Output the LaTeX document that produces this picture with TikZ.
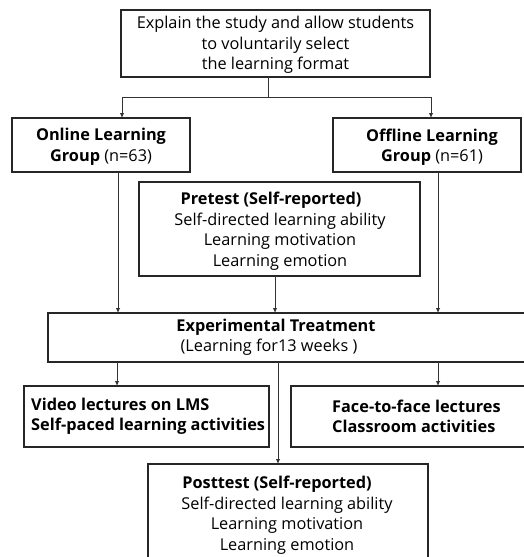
\documentclass[tikz,border=0pt]{standalone}
\usepackage{fontspec}
\setmainfont{Open Sans}
\usetikzlibrary{arrows.meta}
\begin{document}
\begin{tikzpicture}[x=1pt,y=-1pt,
  box/.style={draw=black!85,line width=1.3pt},
  txt/.style={inner sep=0pt,align=center,font=\fontsize{16.3}{20.5}\selectfont},
  conn/.style={draw=black!80,line width=0.9pt},
  arr/.style={conn,-{Latex[length=5pt,width=4.5pt]}}]
\useasboundingbox (0,0) rectangle (524,557);
\clip (0,0) rectangle (524,557);
% boxes
\draw[box] (121,10) rectangle (430,77);
\node[txt] (toptext) at (275.5,45) {Explain the study and allow students\\to voluntarily select\\the learning format};
\coordinate (topb) at (268,77);
\coordinate (split) at (268,97);
\coordinate (splitL) at (122,97);
\coordinate (splitR) at (431,97);

\draw[box] (12,118) rectangle (190,172);
\node[txt] (online) at (101,147) {\textbf{Online Learning}\\\textbf{Group} (n=63)};
\draw[box] (333,118) rectangle (521,172);
\node[txt] (offline) at (432,147) {\textbf{Offline Learning}\\\textbf{Group} (n=61)};

\draw[box] (139,182) rectangle (420,276);
\node[txt] (pretest) at (280,231) {\hspace*{-18pt}\textbf{Pretest (Self-reported)}\\Self-directed learning ability\\Learning motivation\\Learning emotion};

\draw[box] (48,313) rectangle (540,362);
\node[txt] (exp) at (276,337.5) {\textbf{Experimental Treatment}\\\hspace*{-14pt}(Learning for13 weeks )};

\draw[box] (24,386) rectangle (269,447);
\node[txt,align=left,anchor=west] (video) at (31,416.5) {\textbf{Video lectures on LMS}\\\textbf{Self-paced learning activities}};
\draw[box] (291,386) rectangle (540,447);
\node[txt,align=left,anchor=west] (face) at (332,416.5) {\textbf{Face-to-face lectures}\\\textbf{Classroom activities}};

\draw[box] (148,464) rectangle (428,580);
\node[txt] (post) at (287,515) {\hspace*{-20pt}\textbf{Posttest (Self-reported)}\\Self-directed learning ability\\Learning motivation\\Learning emotion};

% connectors
\draw[conn] (topb) -- (split);
\draw[conn] (splitL) -- (splitR);
\draw[arr] (splitL) -- (122,118);
\draw[arr] (splitR) -- (431,118);
\draw[arr] (118,172) -- (118,313);
\draw[arr] (438,172) -- (438,313);
\draw[arr] (275,276) -- (275,313);
\draw[arr] (117,362) -- (117,386);
\draw[arr] (438,362) -- (438,386);
\draw[arr] (278,362) -- (278,464);
\end{tikzpicture}
\end{document}
